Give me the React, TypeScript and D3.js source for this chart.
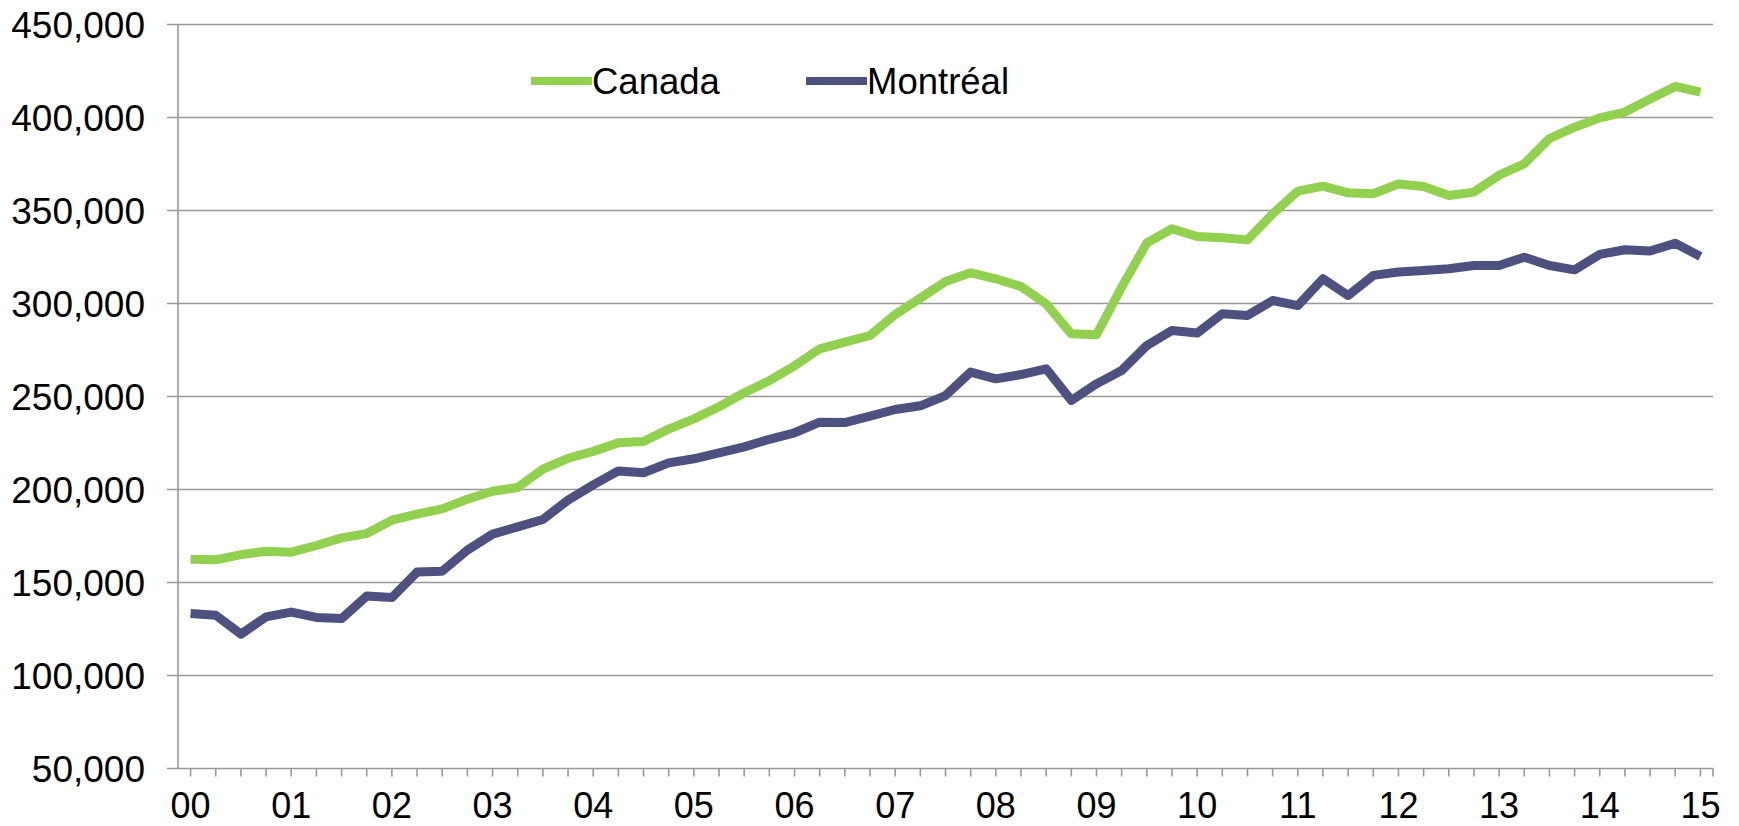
import React from "react";
import * as d3 from "d3";

const yearLabels = ["00","01","02","03","04","05","06","07","08","09","10","11","12","13","14","15"];

const canada = [
  162500,162200,165000,166800,166300,169900,174000,176300,183500,186700,
  189600,194800,199100,201100,210900,216800,220500,225100,225800,232500,
  238000,244500,252000,258500,266500,275600,279200,282800,294100,302900,
  311800,316500,313300,309100,299800,283700,283200,308800,332600,340200,
  336000,335300,334200,348200,360400,363100,359500,359000,364300,362900,
  358100,359900,369000,375100,388700,394800,399800,402900,409900,416700,
  413600
];

const montreal = [
  133300,132400,122200,131500,134100,131200,130600,142700,141900,155600,
  156100,167400,176000,179900,183900,194300,202500,210000,209000,214300,
  216500,219700,222900,227000,230500,236200,236000,239400,243000,245000,
  250500,263100,259500,261800,264900,247900,256800,264000,277400,285500,
  284100,294500,293600,301600,298900,313300,304300,315100,316900,317800,
  318700,320400,320400,324900,320400,318100,326400,328900,328200,332400,
  325300
];

const yTicks = [50000,100000,150000,200000,250000,300000,350000,400000,450000];

const seriesNames = ["Canada", "Montréal"];
const seriesColors = ["#92D050", "#4E5080"];

const W = 1739, H = 826;
const FONT = "'Liberation Sans', Arial, sans-serif";

export default function App() {
  const n = canada.length;
  const x = d3.scaleLinear().domain([-0.5, n - 0.5]).range([178, 1713]);
  const y = d3.scaleLinear().domain([50000, 450000]).range([768.5, 24.5]);
  const line = d3.line<number>().x((_, i) => x(i)).y((d) => y(d));
  const fmt = d3.format(",");
  const x0 = x(-0.5), x1 = x(n - 0.5);
  const tickIdx = d3.range(n);
  return (
    <svg width={W} height={H} style={{ position: "absolute", left: 0, top: 0, background: "#fff" }}>
      <rect width={W} height={H} fill="#fff" />
      {yTicks.map((t) => (
        <g key={t}>
          <line x1={x0 - 11} x2={x1} y1={y(t)} y2={y(t)} stroke="#989898" strokeWidth={1.6} />
          <text x={145} y={y(t)} dy="0.36em" textAnchor="end" fontFamily={FONT} fontSize={37} fill="#000">
            {fmt(t)}
          </text>
        </g>
      ))}
      <line x1={x0} x2={x0} y1={y(450000)} y2={y(50000)} stroke="#989898" strokeWidth={1.6} />
      {tickIdx.map((i) => (
        <line key={i} x1={x(i)} x2={x(i)} y1={y(50000)} y2={y(50000) + 8} stroke="#989898" strokeWidth={1.6} />
      ))}
      <line x1={x1} x2={x1} y1={y(50000)} y2={y(50000) + 8} stroke="#989898" strokeWidth={1.6} />
      {yearLabels.map((lab, k) => (
        <text key={lab} x={x(k * 4)} y={818} textAnchor="middle" fontFamily={FONT} fontSize={36} fill="#000">
          {lab}
        </text>
      ))}
      <path d={line(canada) || ""} fill="none" stroke={seriesColors[0]} strokeWidth={9} strokeLinejoin="round" />
      <path d={line(montreal) || ""} fill="none" stroke={seriesColors[1]} strokeWidth={9} strokeLinejoin="round" />
      {seriesNames.map((name, k) => {
        const lx = k === 0 ? 531 : 806;
        return (
          <g key={name}>
            <line x1={lx} x2={lx + 61} y1={81} y2={81} stroke={seriesColors[k]} strokeWidth={8} />
            <text x={lx + 61} y={81} dy="0.36em" fontFamily={FONT} fontSize={36.5} fill="#000">
              {name}
            </text>
          </g>
        );
      })}
    </svg>
  );
}
